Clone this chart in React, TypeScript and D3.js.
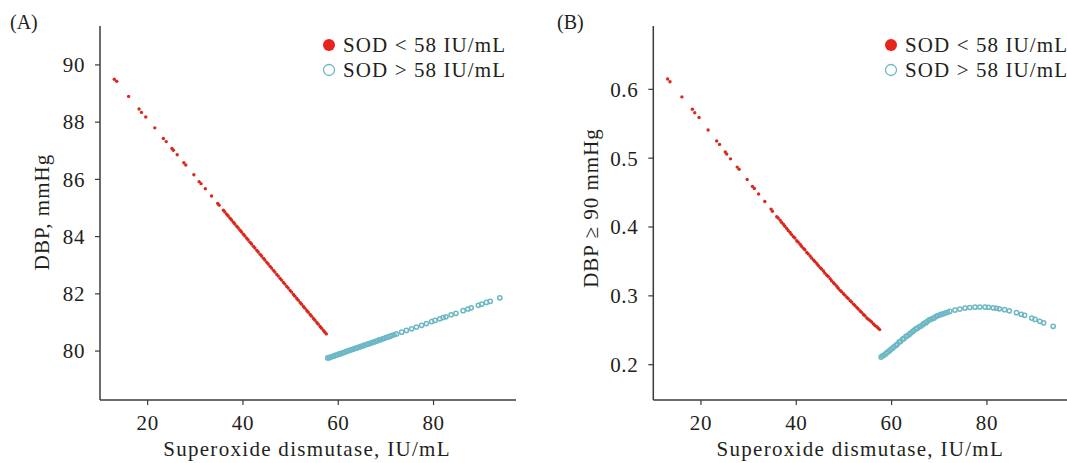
import * as d3 from "d3";

// SOD values of the subjects (x), split at 58 IU/mL
const sodLow = [
  13.0, 13.5, 16.0, 18.2, 18.7, 19.6, 21.5, 23.3, 23.9, 25.1, 25.4, 26.2, 27.6, 28.0, 29.7, 30.8, 31.2, 32.1, 33.4, 34.7, 35.0,
  35.9, 36.2, 36.6, 36.9, 37.3, 37.6, 38.0, 38.3, 38.7, 39.0, 39.4, 39.7, 40.1, 40.4, 40.8, 41.1, 41.5, 41.8, 42.2, 42.5,
  42.9, 43.2, 43.6, 43.9, 44.3, 44.6, 45.0, 45.3, 45.7, 46.0, 46.4, 46.7, 47.1, 47.4, 47.8, 48.1, 48.5, 48.8, 49.2, 49.5,
  49.9, 50.2, 50.6, 50.9, 51.3, 51.6, 52.0, 52.3, 52.7, 53.0, 53.4, 53.7, 54.1, 54.4, 54.8, 55.1, 55.5, 55.8, 56.2, 56.5,
  56.9, 57.2, 57.5,
];
// predicted DBP, mmHg (panel A)
const dbpLow = [
  89.5, 89.43, 88.9, 88.46, 88.34, 88.18, 87.8, 87.43, 87.32, 87.08, 87.02, 86.86, 86.58, 86.5, 86.16, 85.92, 85.85, 85.67, 85.42, 85.16, 85.1,
  84.92, 84.86, 84.78, 84.72, 84.64, 84.58, 84.5, 84.44, 84.36, 84.3, 84.22, 84.16, 84.08, 84.02, 83.94, 83.88, 83.8, 83.74, 83.66, 83.6,
  83.52, 83.46, 83.38, 83.32, 83.24, 83.18, 83.1, 83.04, 82.96, 82.9, 82.82, 82.76, 82.68, 82.62, 82.54, 82.48, 82.4, 82.34, 82.26, 82.2,
  82.12, 82.06, 81.98, 81.92, 81.84, 81.78, 81.7, 81.64, 81.56, 81.5, 81.42, 81.36, 81.28, 81.22, 81.14, 81.08, 81.0, 80.94, 80.86, 80.8,
  80.72, 80.66, 80.6,
];
// predicted probability of DBP >= 90 mmHg (panel B)
const riskLow = [
  0.615, 0.611, 0.589, 0.571, 0.566, 0.559, 0.541, 0.525, 0.52, 0.509, 0.506, 0.499, 0.487, 0.484, 0.469, 0.459, 0.456, 0.448, 0.437, 0.426, 0.423,
  0.415, 0.413, 0.41, 0.407, 0.404, 0.401, 0.398, 0.395, 0.392, 0.389, 0.386, 0.384, 0.38, 0.378, 0.375, 0.372, 0.369, 0.367, 0.363, 0.361,
  0.358, 0.355, 0.352, 0.35, 0.347, 0.344, 0.341, 0.339, 0.336, 0.333, 0.33, 0.328, 0.325, 0.322, 0.319, 0.317, 0.314, 0.311, 0.308, 0.306,
  0.303, 0.301, 0.298, 0.296, 0.293, 0.291, 0.288, 0.286, 0.283, 0.281, 0.278, 0.276, 0.273, 0.271, 0.268, 0.266, 0.264, 0.262, 0.259, 0.257,
  0.255, 0.253, 0.251,
];

const sodHigh = [
  57.8, 58.1, 58.4, 58.8, 59.1, 59.5, 59.8, 60.2, 60.5, 60.9, 61.2, 61.6, 61.9, 62.3, 62.6, 63.0, 63.3, 63.7, 64.0, 64.4,
  64.7, 65.1, 65.4, 65.8, 66.1, 66.5, 66.8, 67.2, 67.5, 67.9, 68.2, 68.6, 68.9, 69.3, 69.6, 70.0, 70.4, 70.8, 71.2, 71.7,
  72.2, 73.3, 74.3, 75.4, 76.4, 77.5, 78.5, 79.6, 80.3, 81.3, 82.0, 82.6, 83.7, 84.7, 86.2, 87.2, 87.9, 89.4, 90.1, 91.1,
  91.9, 93.9,
];
const dbpHigh = [
  79.76, 79.77, 79.79, 79.81, 79.83, 79.86, 79.87, 79.9, 79.91, 79.94, 79.95, 79.98, 80.0, 80.02, 80.04, 80.06, 80.08, 80.1, 80.12, 80.14,
  80.16, 80.18, 80.2, 80.22, 80.24, 80.26, 80.28, 80.3, 80.32, 80.34, 80.36, 80.39, 80.4, 80.43, 80.44, 80.47, 80.49, 80.51, 80.54, 80.57,
  80.6, 80.66, 80.72, 80.78, 80.84, 80.9, 80.96, 81.03, 81.07, 81.13, 81.17, 81.2, 81.27, 81.32, 81.41, 81.47, 81.51, 81.6, 81.64, 81.7,
  81.74, 81.86,
];
const riskHigh = [
  0.211, 0.213, 0.214, 0.216, 0.218, 0.22, 0.222, 0.224, 0.226, 0.228, 0.23, 0.233, 0.234, 0.237, 0.238, 0.241, 0.242, 0.244, 0.246, 0.248,
  0.25, 0.252, 0.253, 0.255, 0.256, 0.258, 0.26, 0.261, 0.263, 0.265, 0.266, 0.267, 0.268, 0.27, 0.271, 0.272, 0.273, 0.274, 0.275, 0.276,
  0.2774, 0.2793, 0.2808, 0.2822, 0.2831, 0.2836, 0.2838, 0.2837, 0.2834, 0.2826, 0.282, 0.2812, 0.2799, 0.2783, 0.2755, 0.2733, 0.2717, 0.2677, 0.2657, 0.263,
  0.2608, 0.2557,
];

const sodTicks = [20, 40, 60, 80];
const dbpTicks = [80, 82, 84, 86, 88, 90];
const riskTicks = [0.2, 0.3, 0.4, 0.5, 0.6];
const legendLabels = ["SOD < 58 IU/mL", "SOD > 58 IU/mL"];

const RED = "#d9281c";
const CYAN = "#6cb8c5";
const INK = "#231f20";
const AXIS = "#3d3a3a";
const FONT = "'Liberation Serif', 'Times New Roman', serif";
const FS = 21;
const LS = 0.6;

type PanelProps = {
  tag: string;
  left: number;
  right: number;
  xDomain: [number, number];
  yDomain: [number, number];
  yTicks: number[];
  yFormat: (v: number) => string;
  yLow: number[];
  yHigh: number[];
  yTitle: string;
  yTitleX: number;
  yTitleY: number;
  tagX: number;
  legendX: number;
};

const TOP = 26;
const BOTTOM = 400;

function Panel(p: PanelProps) {
  const x = d3.scaleLinear().domain(p.xDomain).range([p.left, p.right]);
  const y = d3.scaleLinear().domain(p.yDomain).range([BOTTOM, TOP]);
  const midX = p.left + 207;

  return (
    <g>
      <text x={p.tagX} y={29} fontSize={20} fill={INK}>{p.tag}</text>

      {/* axes */}
      <line x1={p.left} x2={p.left} y1={TOP} y2={BOTTOM} stroke={AXIS} strokeWidth={1.5} />
      <line x1={p.left} x2={p.right} y1={BOTTOM} y2={BOTTOM} stroke={AXIS} strokeWidth={1.5} />
      {p.yTicks.map((t) => (
        <g key={t}>
          <line x1={p.left - 5} x2={p.left} y1={y(t)} y2={y(t)} stroke={AXIS} strokeWidth={1.2} />
          <text x={p.left - 15} y={y(t)} dy="0.35em" textAnchor="end" fontSize={FS} letterSpacing={LS} fill={INK}>
            {p.yFormat(t)}
          </text>
        </g>
      ))}
      {sodTicks.map((t) => (
        <g key={t}>
          <line x1={x(t)} x2={x(t)} y1={BOTTOM} y2={BOTTOM + 5} stroke={AXIS} strokeWidth={1.2} />
          <text x={x(t)} y={430} textAnchor="middle" fontSize={FS} letterSpacing={LS} fill={INK}>{t}</text>
        </g>
      ))}
      <text x={midX} y={456} textAnchor="middle" fontSize={FS} letterSpacing={1.3} fill={INK}>
        Superoxide dismutase, IU/mL
      </text>
      <text
        transform={`translate(${p.yTitleX},${p.yTitleY}) rotate(-90)`}
        textAnchor="middle"
        fontSize={FS}
        letterSpacing={1.0}
        fill={INK}
      >
        {p.yTitle}
      </text>

      {/* points */}
      {sodLow.map((s, i) => (
        <circle key={"l" + i} cx={x(s)} cy={y(p.yLow[i])} r={1.7} fill={RED} />
      ))}
      {sodHigh.map((s, i) => (
        <circle key={"h" + i} cx={x(s)} cy={y(p.yHigh[i])} r={2.1} fill="none" stroke={CYAN} strokeWidth={1.5} />
      ))}

      {/* legend */}
      <circle cx={p.legendX} cy={45} r={6} fill="#e8231c" />
      <text x={p.legendX + 14} y={51.5} fontSize={FS} letterSpacing={1.1} fill={INK}>{legendLabels[0]}</text>
      <circle cx={p.legendX} cy={70} r={5.5} fill="none" stroke={CYAN} strokeWidth={1.3} />
      <text x={p.legendX + 14} y={76.5} fontSize={FS} letterSpacing={1.1} fill={INK}>{legendLabels[1]}</text>
    </g>
  );
}

export default function App() {
  return (
    <svg
      width={1067}
      height={463}
      style={{ position: "absolute", left: 0, top: 0, background: "#fff", fontFamily: FONT }}
    >
      <Panel
        tag="(A)"
        left={100}
        right={516}
        xDomain={[10, 97.3]}
        yDomain={[78.29, 91.36]}
        yTicks={dbpTicks}
        yFormat={(v) => String(v)}
        yLow={dbpLow}
        yHigh={dbpHigh}
        yTitle="DBP, mmHg"
        yTitleX={49}
        yTitleY={212}
        tagX={10}
        legendX={329}
      />
      <Panel
        tag="(B)"
        left={653.3}
        right={1067}
        xDomain={[10, 96.8]}
        yDomain={[0.1487, 0.692]}
        yTicks={riskTicks}
        yFormat={(v) => d3.format(".1f")(v)}
        yLow={riskLow}
        yHigh={riskHigh}
        yTitle="DBP ≥ 90 mmHg"
        yTitleX={598}
        yTitleY={208}
        tagX={557}
        legendX={891}
      />
    </svg>
  );
}
